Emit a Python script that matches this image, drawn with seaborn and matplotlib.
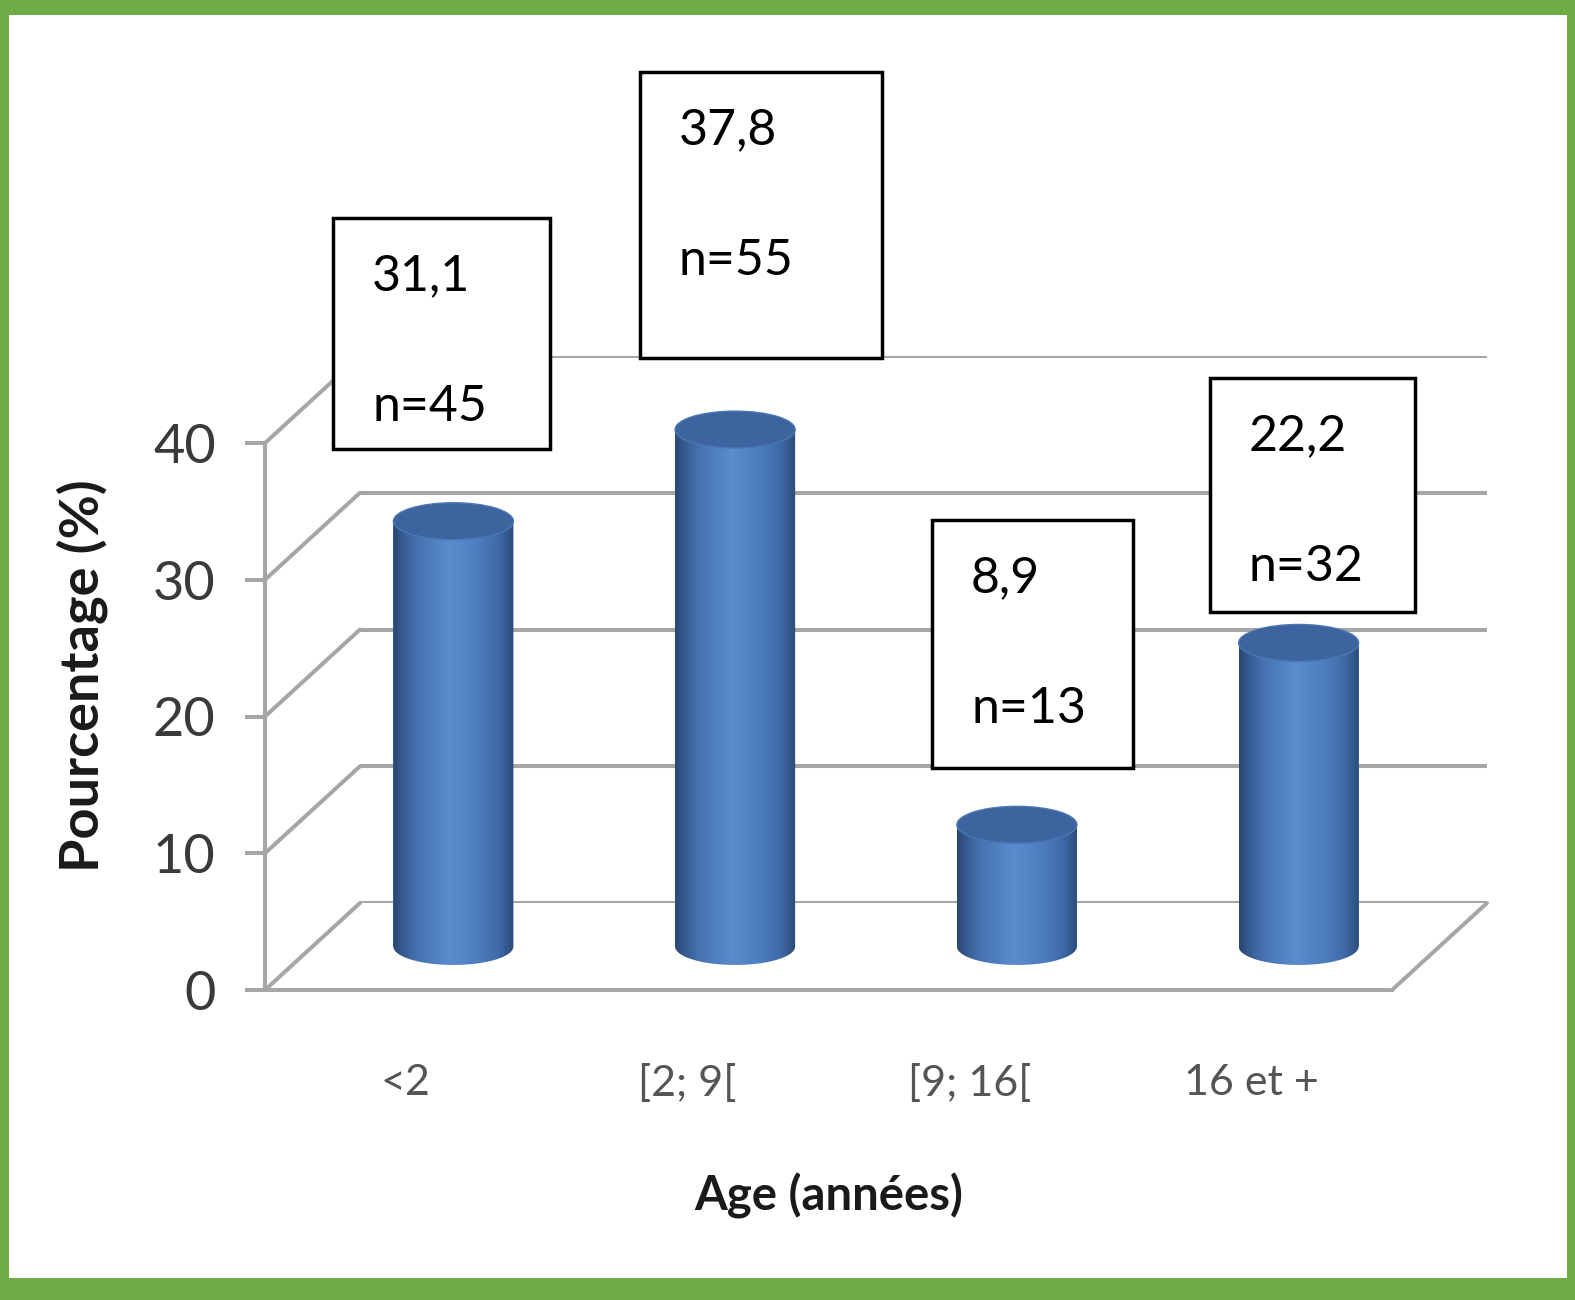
import numpy as np
import pandas as pd
import matplotlib
matplotlib.use("Agg")
import matplotlib.pyplot as plt
import seaborn as sns
from matplotlib.patches import Rectangle, Ellipse, PathPatch, ConnectionPatch
from matplotlib.path import Path
from matplotlib.colors import LinearSegmentedColormap

# ---- data -------------------------------------------------------------
categories = ["<2", "[2; 9[", "[9; 16[", "16 et +"]
percentages = [31.1, 37.8, 8.9, 22.2]
counts = [45, 55, 13, 32]
y_ticks = [0, 10, 20, 30, 40]

x_title = "Age (années)"
y_title = "Pourcentage (%)"

# ---- figure / layout (pixel units, y measured from the top) -----------
W, H, DPI = 1575, 1300, 100
FRONT = (265, 443, 1392, 990)      # left, top, right, bottom of the front plane
DEPTH = (95, 87)                   # shift of the back wall (right, up)
GRID = "#a6a6a6"
LW = 2.9
BAR_W = 0.426
CAP_H = 2.7                        # ellipse height of the cylinder ends, in % units
BELOW = 4.0                        # room under the floor for the rounded cylinder bases
BORDER = "#70ad47"

sns.set_theme(style="white")
plt.rcParams["font.family"] = ["Lato", "DejaVu Sans"]

fig = plt.figure(figsize=(W / DPI, H / DPI), dpi=DPI)
fig.patch.set_facecolor("white")


def frac_rect(left, top, right, bottom):
    return [left / W, 1 - bottom / H, (right - left) / W, (bottom - top) / H]


def fx(x):
    return x / W


def fy(y):
    return 1 - y / H


def shifted(box, k):
    l, t, r, b = box
    return (l + DEPTH[0] * k, t - DEPTH[1] * k, r + DEPTH[0] * k, b - DEPTH[1] * k)


y_min, y_max = min(y_ticks), max(y_ticks)
px_per_unit = (FRONT[3] - FRONT[1]) / (y_max - y_min)

ax_back = fig.add_axes(frac_rect(*shifted(FRONT, 1.0)), zorder=0)
ax_front = fig.add_axes(frac_rect(*FRONT), zorder=1)
bl, bt, br, bb = shifted(FRONT, 0.5)
ax_bar = fig.add_axes(frac_rect(bl, bt, br, bb + BELOW * px_per_unit), zorder=3)

for a in (ax_back, ax_front, ax_bar):
    a.set_xlim(-0.5, len(categories) - 0.5)
    a.set_ylim(y_min, y_max)
    a.patch.set_visible(False)

# ---- back wall gridlines ----------------------------------------------
for t in y_ticks:
    ax_back.axhline(t, color=GRID, lw=LW, solid_capstyle="butt")
ax_back.set_axis_off()

# ---- front axis --------------------------------------------------------
for s in ("top", "right"):
    ax_front.spines[s].set_visible(False)
for s in ("left", "bottom"):
    ax_front.spines[s].set_color(GRID)
    ax_front.spines[s].set_linewidth(LW)
ax_front.set_yticks(y_ticks)
ax_front.set_yticklabels([str(t) for t in y_ticks])
ax_front.set_xticks(range(len(categories)))
ax_front.set_xticklabels(categories)
ax_front.tick_params(axis="y", direction="out", length=14.5, width=LW, color=GRID,
                     labelcolor="#3a3a3a", labelsize=39, pad=21, left=True)
ax_front.tick_params(axis="x", length=0, labelcolor="#555555", labelsize=31, pad=53)
ax_front.grid(False)

ax_front.set_xlabel(x_title, fontsize=34, fontweight="bold", color="#1a1a1a")
ax_front.xaxis.set_label_coords(0.5, -0.335)
ax_front.set_ylabel(y_title, fontsize=39, fontweight="bold", color="#1a1a1a", va="center")
ax_front.yaxis.set_label_coords((82 - FRONT[0]) / (FRONT[2] - FRONT[0]),
                                (FRONT[3] - 676) / (FRONT[3] - FRONT[1]))

# depth edges joining the front plane to the back wall
for t in y_ticks:
    fig.add_artist(ConnectionPatch(xyA=(-0.5, t), coordsA=ax_front.transData,
                                   xyB=(-0.5, t), coordsB=ax_back.transData,
                                   color=GRID, lw=LW, zorder=2))
fig.add_artist(ConnectionPatch(xyA=(len(categories) - 0.5, 0), coordsA=ax_front.transData,
                               xyB=(len(categories) - 0.5, 0), coordsB=ax_back.transData,
                               color=GRID, lw=LW, zorder=2))

# ---- cylinders ---------------------------------------------------------
df = pd.DataFrame({"Age": categories, "Pourcentage": percentages})
sns.barplot(data=df, x="Age", y="Pourcentage", ax=ax_bar, width=BAR_W,
            color="#4f81bd", saturation=1, edgecolor="none", errorbar=None)
ax_bar.set_xlim(-0.5, len(categories) - 0.5)
ax_bar.set_ylim(y_min - BELOW, y_max)
ax_bar.set_axis_off()

body_cmap = LinearSegmentedColormap.from_list(
    "cyl", [(0.00, "#2a4672"), (0.07, "#36598f"), (0.20, "#4673b1"),
            (0.47, "#5a8cce"), (0.72, "#4c7cbc"), (0.88, "#3e69a6"),
            (0.95, "#33578c"), (1.00, "#2b4a78")])
grad = np.linspace(0, 1, 256).reshape(1, -1)

for p in list(ax_bar.patches):
    x0, w, h = p.get_x(), p.get_width(), p.get_height()
    x1, cx = x0 + w, x0 + w / 2
    theta = np.linspace(0, -np.pi, 60)
    verts = [(x0, 0), (x0, h), (x1, h)] + \
        list(zip(cx + w / 2 * np.cos(theta), CAP_H / 2 * np.sin(theta))) + [(x0, 0)]
    codes = [Path.MOVETO] + [Path.LINETO] * (len(verts) - 2) + [Path.CLOSEPOLY]
    body = PathPatch(Path(verts, codes), transform=ax_bar.transData,
                     facecolor="none", edgecolor="none")
    ax_bar.add_patch(body)
    im = ax_bar.imshow(grad, cmap=body_cmap, aspect="auto", interpolation="bicubic",
                       extent=[x0, x1, -CAP_H / 2, h], zorder=2)
    im.set_clip_path(body)
    ax_bar.add_patch(Ellipse((cx, h), w, CAP_H, facecolor="#3d649f",
                             edgecolor="#4a78b4", lw=1.0, zorder=3, clip_on=False))
ax_bar.set_xlim(-0.5, len(categories) - 0.5)
ax_bar.set_ylim(y_min - BELOW, y_max)

# ---- value boxes ------------------------------------------------------
BOXES = [(333, 218, 550, 449), (640, 72, 882, 358),
         (932, 520, 1133, 768), (1210, 378, 1415, 612)]
for (l, t, r, b), v, n in zip(BOXES, percentages, counts):
    fig.add_artist(Rectangle((fx(l), fy(b)), (r - l) / W, (b - t) / H,
                             transform=fig.transFigure, facecolor="white",
                             edgecolor="black", lw=2.5, zorder=5))
    fig.text(fx(l + 39), fy(t + 72), f"{v:.1f}".replace(".", ","), fontsize=36,
             color="black", ha="left", va="baseline", zorder=6)
    fig.text(fx(l + 39), fy(t + 203), f"n={n}", fontsize=36,
             color="black", ha="left", va="baseline", zorder=6)

# ---- green frame ------------------------------------------------------
for (l, t, r, b) in [(0, 0, W, 15), (0, 0, 9, H), (W - 8, 0, W, H), (0, H - 22, W, H)]:
    fig.add_artist(Rectangle((fx(l), fy(b)), (r - l) / W, (b - t) / H,
                             transform=fig.transFigure, facecolor=BORDER,
                             edgecolor="none", zorder=10))

fig.savefig("out.png", dpi=DPI)
